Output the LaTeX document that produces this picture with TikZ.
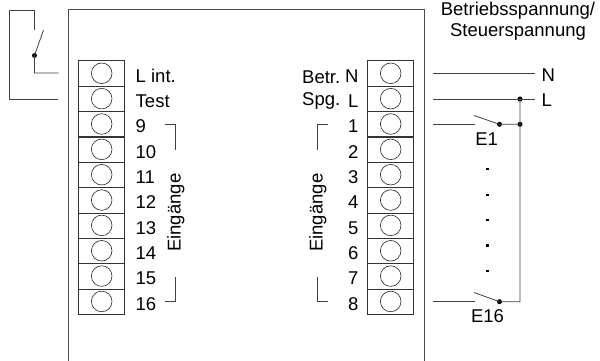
\documentclass[tikz,border=0pt]{standalone}
\usepackage{fontspec}
\setmainfont{Liberation Sans}
\begin{document}
\begin{tikzpicture}[x=1pt,y=-1pt,
  wire/.style={draw=black!75,line width=0.8pt},
  cell/.style={draw=black!80,line width=0.8pt,minimum width=46pt,minimum height=25.4pt,inner sep=0pt,outer sep=0pt},
  hole/.style={draw=black!85,line width=0.6pt,circle,minimum size=20.6pt,inner sep=0pt},
  lbl/.style={font=\fontsize{18.5}{21}\selectfont,inner sep=0pt,text=black},
  junction/.style={circle,fill=black,minimum size=5pt,inner sep=0pt},
  spot/.style={fill=black,minimum size=2.4pt,inner sep=0pt}]
\useasboundingbox (0,0) rectangle (600,361);
% housing
\coordinate (hbl) at (68.5,361); \coordinate (htl) at (68.5,10);
\coordinate (htr) at (424,10); \coordinate (hbr) at (424,361);
\draw[draw=black!70,line width=1pt] (hbl) -- (htl) -- (htr) -- (hbr);
% terminal blocks
\foreach \i in {0,...,9}{
  \node[cell] (a\i) at (101.5,{73.5+25.35*\i}) {};
  \node[hole] (ah\i) at (101.7,{73.3+25.35*\i}) {};
  \node[cell] (b\i) at (390.7,{73.5+25.35*\i}) {};
  \node[hole] (bh\i) at (390.7,{73.3+25.35*\i}) {};
}
% left labels
\foreach \i/\t in {0/L int.,1/Test,2/9,3/10,4/11,5/12,6/13,7/14,8/15,9/16}
  \node[lbl,anchor=base west] at (135.5,{82+25.35*\i}) {\t};
% right labels
\foreach \i/\t in {0/N,1/L,2/1,3/2,4/3,5/4,6/5,7/6,8/7,9/8}
  \node[lbl,anchor=base east] at (358.7,{82+25.35*\i}) {\t};
\node[lbl,anchor=base west] at (302,83.5) {Betr.};
\node[lbl,anchor=base west] at (302,106) {Spg.};
\node[lbl,rotate=90,anchor=base west] at (180.5,252) {Eingänge};
\node[lbl,rotate=90,anchor=base west] at (322.7,252) {Eingänge};
% brackets
\coordinate (l1) at (165,124.5); \coordinate (l2) at (175.5,124.5); \coordinate (l3) at (175.5,149.5);
\coordinate (l4) at (165,301.7); \coordinate (l5) at (175.5,301.7); \coordinate (l6) at (175.5,276.5);
\coordinate (r1) at (327.5,124.5); \coordinate (r2) at (317,124.5); \coordinate (r3) at (317,149.5);
\coordinate (r4) at (327.5,301.7); \coordinate (r5) at (317,301.7); \coordinate (r6) at (317,276.5);
\draw[wire] (l1) -- (l2) -- (l3);
\draw[wire] (l4) -- (l5) -- (l6);
\draw[wire] (r1) -- (r2) -- (r3);
\draw[wire] (r4) -- (r5) -- (r6);
% external switch left
\coordinate (s1) at (58,99); \coordinate (s2) at (9.3,99); \coordinate (s3) at (9.3,10);
\coordinate (s4) at (34.5,10); \coordinate (s5) at (34.5,30.5);
\coordinate (s6) at (43.5,30); \coordinate (s7) at (58.5,73);
\node[junction] (sj) at (34.5,55.5) {};
\draw[wire] (s1) -- (s2) -- (s3) -- (s4) -- (s5);
\draw[wire] (s6) -- (sj.center) |- (s7);
% supply
\node[lbl,anchor=base west] (tn) at (541.5,81.7) {N};
\node[lbl,anchor=base west] (tl) at (541.5,106.7) {L};
\coordinate (n0) at (433.3,73); \coordinate (n1) at (535,73);
\coordinate (p0) at (433.3,99); \coordinate (p1) at (535,99);
\node[junction] (jl) at (520,99) {};
\node[junction] (j1) at (520,124.3) {};
\node[junction] (e1) at (499.5,124.3) {};
\node[junction] (e16) at (499.5,301.7) {};
\coordinate (c16) at (520,301.7);
\coordinate (i1) at (475,124.3); \coordinate (i0) at (433.3,124.3);
\coordinate (k1) at (475,301.7); \coordinate (k0) at (433.3,301.7);
\coordinate (a1) at (474,115.5); \coordinate (a16) at (474,292.5);
\draw[wire] (n0) -- (n1);
\draw[wire] (p0) -- (p1);
\draw[wire] (jl.center) -- (c16) -- (e16.center) -- (a16);
\draw[wire] (k0) -- (k1);
\draw[wire] (i0) -- (i1);
\draw[wire] (a1) -- (e1.center) -- (j1.center);
\foreach \y in {169,195,220,245.5,271}
  \node[spot] at (487.5,\y) {};
\node[lbl,anchor=base] at (486.7,145) {E1};
\node[lbl,anchor=base] at (487.5,322.7) {E16};
\node[lbl,anchor=base] at (518,15.7) {Betriebsspannung/};
\node[lbl,anchor=base] at (518,36.7) {Steuerspannung};
\end{tikzpicture}
\end{document}
